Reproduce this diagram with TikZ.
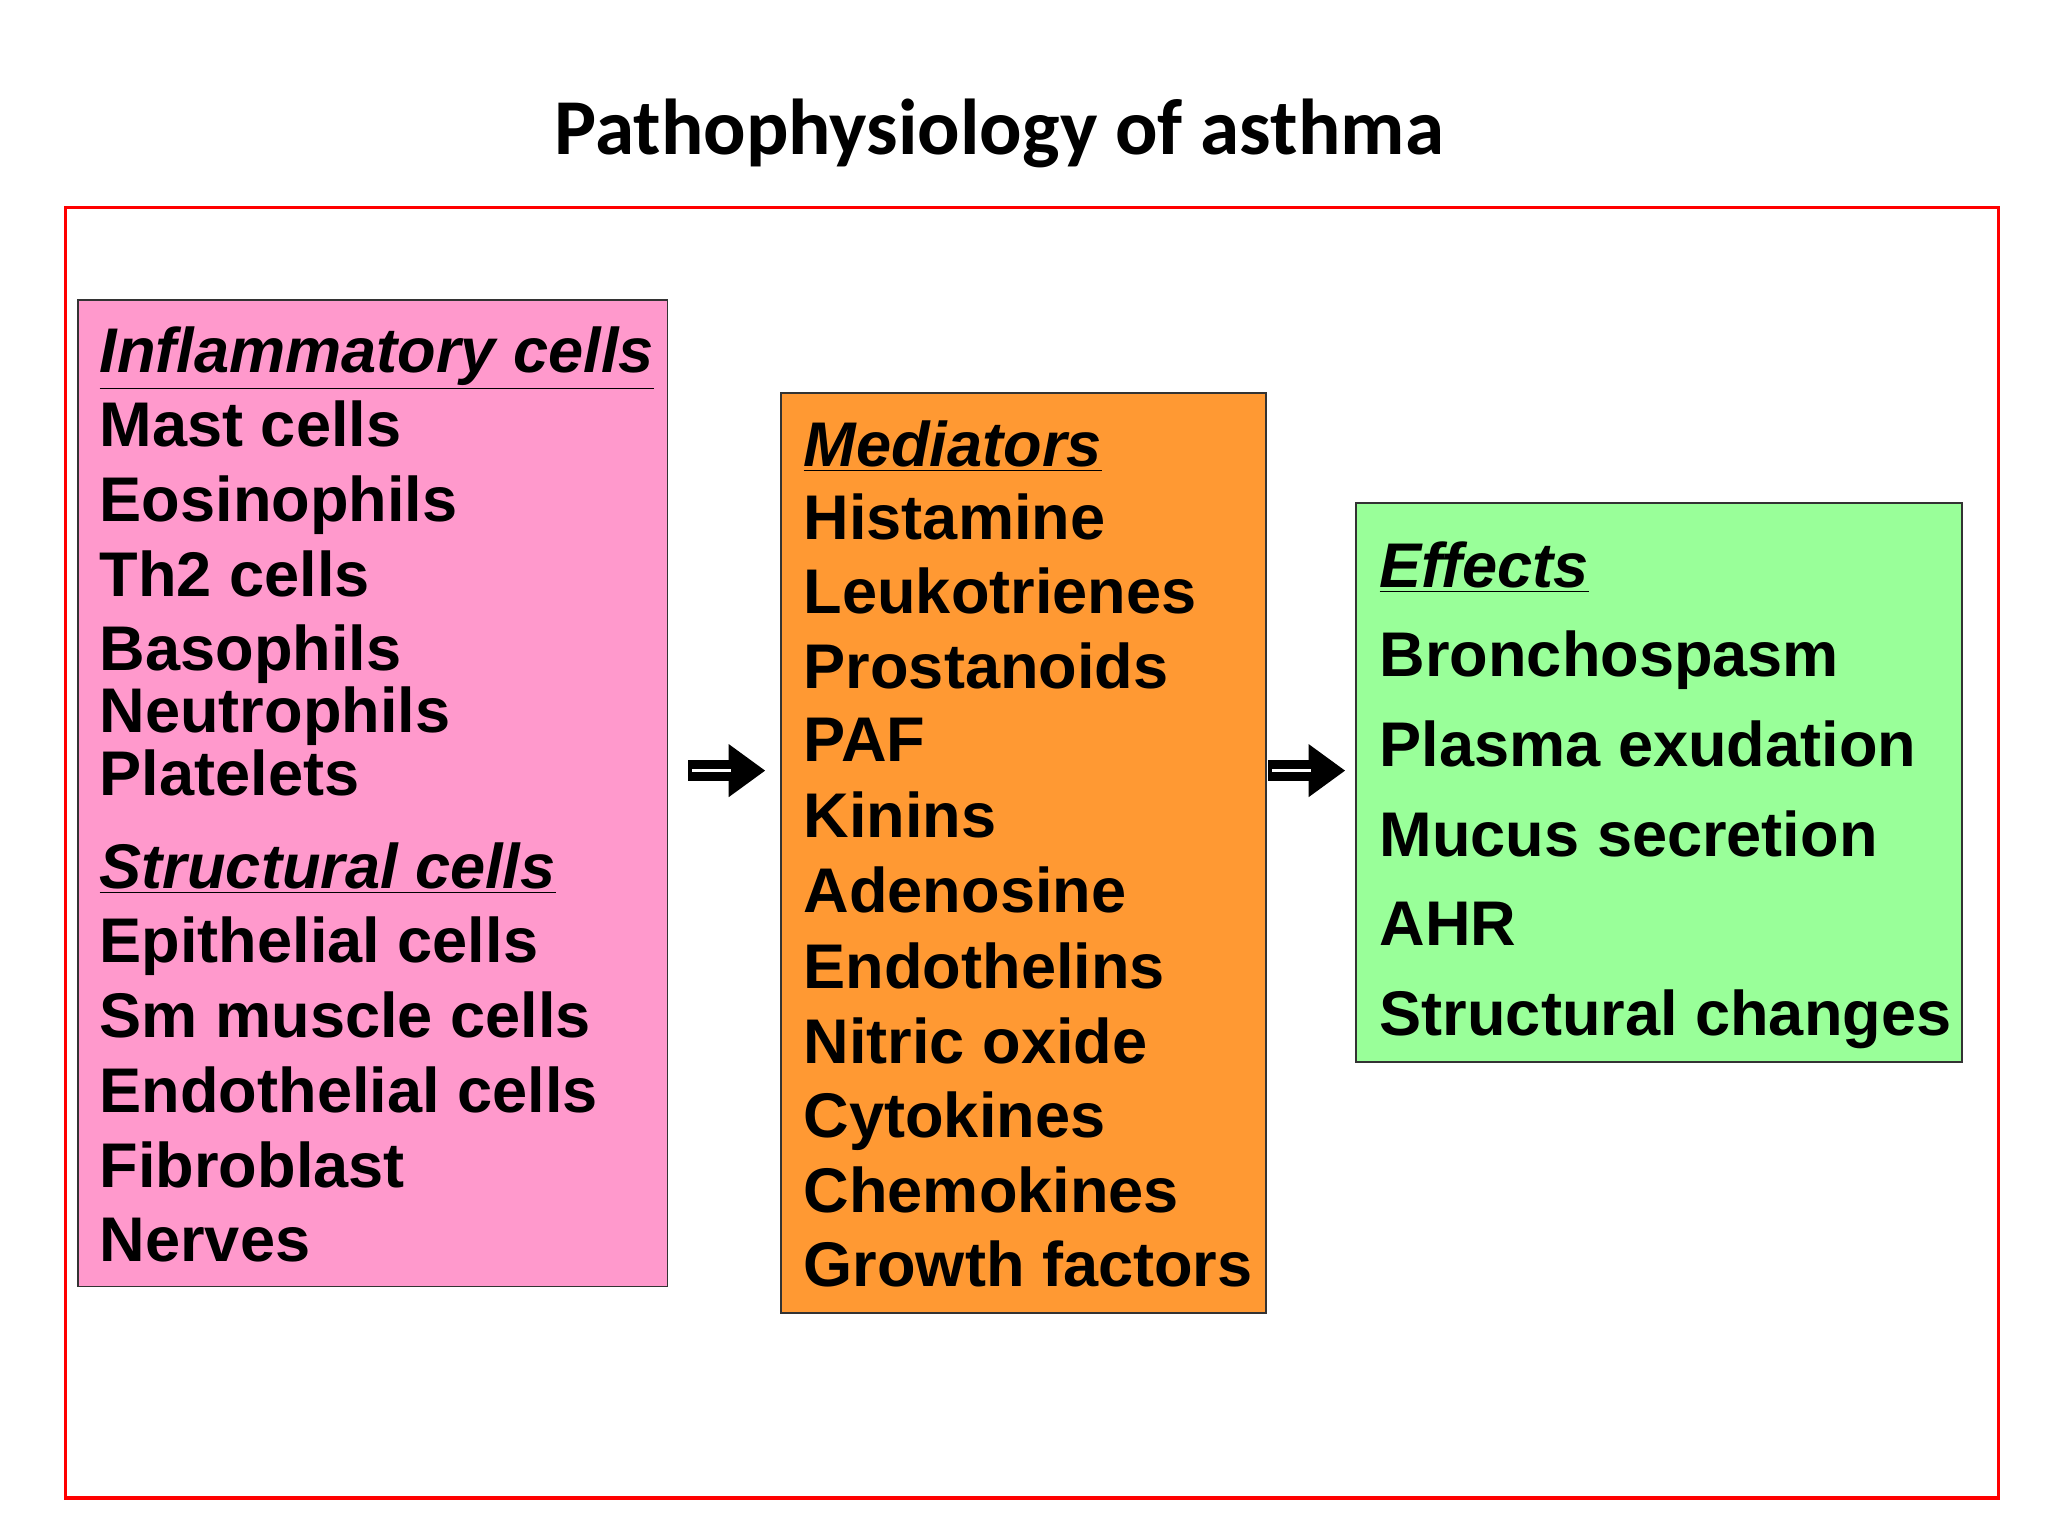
\documentclass[tikz,border=0pt]{standalone}
\usepackage{fontspec}
\setmainfont{Liberation Sans}
\newfontfamily\titlefont{Carlito}
\usetikzlibrary{arrows.meta}
\definecolor{pinkbox}{HTML}{FF99CC}
\definecolor{orangebox}{HTML}{FF9933}
\definecolor{greenbox}{HTML}{99FF99}
\tikzset{
  boxst/.style={draw=black!80, line width=0.8pt, inner sep=0pt},
  txt/.style={anchor=base west, inner sep=0pt, font=\fontsize{27.5}{30}\selectfont\bfseries},
  hd/.style={txt, font=\fontsize{27.5}{30}\selectfont\bfseries\itshape},
  blockarrow/.style={-{Triangle[length=16pt,width=22pt]}, line width=9pt, black}
}
\newcommand{\hdtext}[1]{\underline{#1}}
\begin{document}
\begin{tikzpicture}[x=0.02cm,y=-0.02cm]
\useasboundingbox (0,0) rectangle (1568,1176);
\node[font=\titlefont\fontsize{34.5}{38}\selectfont\bfseries] (title) at (765,102) {Pathophysiology of asthma};
\draw[red, line width=1.5pt] (50,159) rectangle (1530,1147);
\node[boxst, fill=pinkbox, minimum width=451*0.02cm, minimum height=755*0.02cm] (inflam) at (285.5,607.5) {};
\node[boxst, fill=orangebox, minimum width=371*0.02cm, minimum height=704*0.02cm] (med) at (783.5,653) {};
\node[boxst, fill=greenbox, minimum width=464*0.02cm, minimum height=428*0.02cm] (eff) at (1270,599) {};
% left texts
\node[hd] (h1) at (76,285) {\hdtext{Inflammatory cells}};
\foreach \t/\y in {Mast cells/342, Eosinophils/399, Th2 cells/457, Basophils/513, Neutrophils/561, Platelets/609}
  \node[txt] at (76,\y) {\t};
\node[hd] (h2) at (76,680) {\hdtext{Structural cells}};
\foreach \t/\y in {Epithelial cells/737, Sm muscle cells/794, Endothelial cells/852, Fibroblast/909, Nerves/966}
  \node[txt] at (76,\y) {\t};
% middle
\node[hd] (h3) at (615,357) {\hdtext{Mediators}};
\foreach \t/\y in {Histamine/413, Leukotrienes/470, Prostanoids/527, PAF/583, Kinins/641, Adenosine/699, Endothelins/757, Nitric oxide/814, Cytokines/871, Chemokines/928, Growth factors/985}
  \node[txt] at (615,\y) {\t};
% right
\node[hd] (h4) at (1056,450) {\hdtext{Effects}};
\foreach \t/\y in {Bronchospasm/518, Plasma exudation/587, Mucus secretion/656, AHR/724, Structural changes/793}
  \node[txt] at (1056,\y) {\t};
% arrows
\coordinate (a1s) at (527,590); \coordinate (a1e) at (586,590);
\coordinate (a2s) at (971,590); \coordinate (a2e) at (1030,590);
\draw[blockarrow] (a1s) -- (a1e);
\draw[white, line width=1.5pt] (530,590) -- (560,590);
\draw[blockarrow] (a2s) -- (a2e);
\draw[white, line width=1.5pt] (974,590) -- (1004,590);
\end{tikzpicture}
\end{document}
